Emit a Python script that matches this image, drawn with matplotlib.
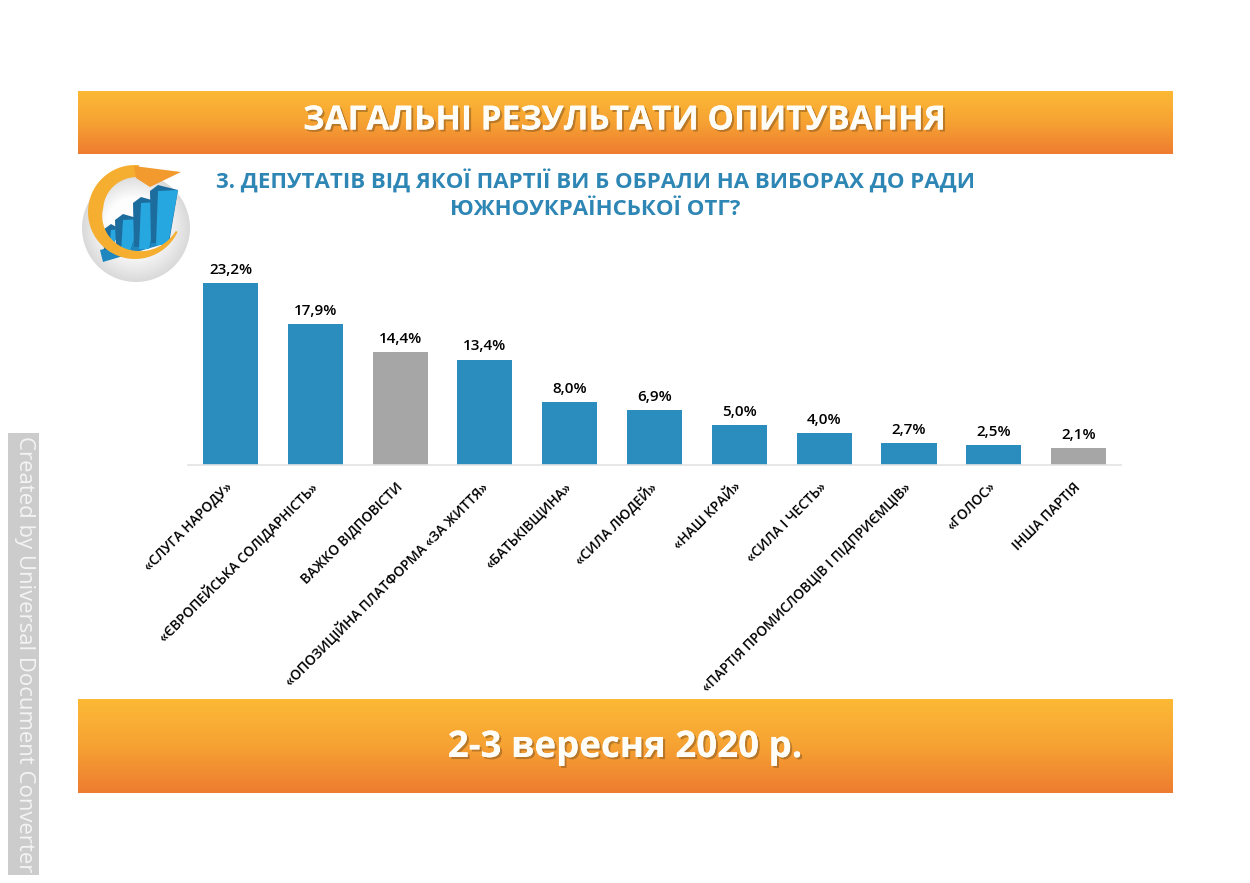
import numpy as np
import matplotlib
matplotlib.use('Agg')
import matplotlib.pyplot as plt
import matplotlib.patheffects as pe
from matplotlib.colors import LinearSegmentedColormap, to_rgb
from matplotlib.patches import Circle, Polygon, Rectangle
from matplotlib.transforms import ScaledTranslation

plt.rcParams['font.family'] = ['Open Sans', 'DejaVu Sans']

W, H = 1250, 883

parties = ['«СЛУГА НАРОДУ»', '«ЄВРОПЕЙСЬКА СОЛІДАРНІСТЬ»', 'ВАЖКО ВІДПОВІСТИ',
           '«ОПОЗИЦІЙНА ПЛАТФОРМА «ЗА ЖИТТЯ»', '«БАТЬКІВЩИНА»', '«СИЛА ЛЮДЕЙ»',
           '«НАШ КРАЙ»', '«СИЛА І ЧЕСТЬ»', '«ПАРТІЯ ПРОМИСЛОВЦІВ І ПІДПРИЄМЦІВ»',
           '«ГОЛОС»', 'ІНША ПАРТІЯ']
values = [23.2, 17.9, 14.4, 13.4, 8.0, 6.9, 5.0, 4.0, 2.7, 2.5, 2.1]
bar_colors = ['#2B8CBE', '#2B8CBE', '#A6A6A6', '#2B8CBE', '#2B8CBE', '#2B8CBE',
              '#2B8CBE', '#2B8CBE', '#2B8CBE', '#2B8CBE', '#A6A6A6']

fig = plt.figure(figsize=(W / 100, H / 100), dpi=100, facecolor='white')

# overlay in pixel coordinates for the slide decoration
bg = fig.add_axes([0, 0, 1, 1])
bg.axis('off')

orange = LinearSegmentedColormap.from_list('banner', ['#FCB935', '#F6A233', '#EE7C30'])
grad = np.linspace(0, 1, 128).reshape(-1, 1)
bg.imshow(grad, cmap=orange, extent=[78, 1173, 154, 91], aspect='auto')
bg.imshow(grad, cmap=orange, extent=[78, 1173, 793, 699], aspect='auto')
bg.set_xlim(0, W)
bg.set_ylim(H, 0)

shadow = [pe.withSimplePatchShadow(offset=(1.5, -1.5), shadow_rgbFace='#8a5a20', alpha=0.55), pe.Normal()]
bg.text(625, 121, 'ЗАГАЛЬНІ РЕЗУЛЬТАТИ ОПИТУВАННЯ', color='#FFFDF8', fontsize=24,
        fontweight='bold', ha='center', va='center', path_effects=shadow)
bg.text(625, 747, '2-3 вересня 2020 р.', color='#FFFDF8', fontsize=26.4,
        fontweight='bold', ha='center', va='center', path_effects=shadow)

bg.text(595, 195, '3. ДЕПУТАТІВ ВІД ЯКОЇ ПАРТІЇ ВИ Б ОБРАЛИ НА ВИБОРАХ ДО РАДИ\nЮЖНОУКРАЇНСЬКОЇ ОТГ?',
        color='#2E86B5', fontsize=16, fontweight='bold', ha='center', va='center', linespacing=1.32)

# logo: soft sphere
edge, mid = np.array(to_rgb('#DADADA')), np.array(to_rgb('#FDFDFD'))
for t in np.linspace(0, 1, 25):
    r = 54 - 26 * t
    bg.add_patch(Circle((136 - 2 * t, 228 - 3 * t), r, facecolor=edge + (mid - edge) * t, edgecolor='none'))

# logo: base and 3d columns
bg.add_patch(Polygon([(100, 250), (103, 262), (167, 243), (168, 232)], facecolor='#1E87BF', edgecolor='none'))
for x0, top, w, bot in [(103, 227, 17, 250), (115, 217, 25, 250), (133, 200, 26, 247), (150, 188, 28, 243)]:
    bg.add_patch(Polygon([(x0, top + 3), (x0 + 8, top - 3), (x0 + w, top + 2), (x0 + w - 9, bot), (x0 + 1, bot)],
                         facecolor='#1C6C9E', edgecolor='none'))
    bg.add_patch(Polygon([(x0 + 8, top + 3), (x0 + w, top + 2), (x0 + w - 10, bot + 2), (x0 + 6, bot + 2)],
                         facecolor='#27A7DF', edgecolor='none'))

# logo: arrow, thick over the top left and tapering towards the tail
ang = np.radians(np.linspace(85, 335, 80))
thick = np.interp(np.linspace(0, 1, 80), [0, 0.35, 0.75, 1], [12, 15, 8, 2])
ox, oy = 135 + 47 * np.cos(ang), 212 - 47 * np.sin(ang)
ix, iy = 135 + (47 - thick) * np.cos(ang), 212 - (47 - thick) * np.sin(ang)
bg.add_patch(Polygon(np.r_[np.c_[ox, oy], np.c_[ix, iy][::-1]], facecolor='#F5AE30', edgecolor='none'))
bg.add_patch(Polygon([(134, 166), (181, 172), (150, 187), (136, 178)], facecolor='#F39A2E', edgecolor='none'))

# watermark
bg.add_patch(Rectangle((8, 433), 31, 442, facecolor='#CCCCCC', edgecolor='none'))
bg.text(24, 654, 'Created by Universal Document Converter', color='#F4F4F4', fontsize=15.9,
        rotation=270, ha='center', va='center')

# bar chart
left, right, base, top = 188, 1121, 464.5, 250
ax = fig.add_axes([left / W, 1 - base / H, (right - left) / W, (base - top) / H])
ax.patch.set_alpha(0)
x = np.arange(len(parties))
bars = ax.bar(x, values, width=0.65, color=bar_colors)
ax.set_xlim(-0.501, 10.5)
ax.set_ylim(0, 27.4)
for b, v in zip(bars, values):
    ax.annotate(f'{v:.1f}%'.replace('.', ','), (b.get_x() + b.get_width() / 2, v),
                xytext=(0, 4.5), textcoords='offset points', ha='center', va='bottom',
                fontsize=11, fontweight='semibold', color='black')

for s in ['top', 'left', 'right']:
    ax.spines[s].set_visible(False)
ax.spines['bottom'].set_color('#E3E3E3')
ax.spines['bottom'].set_linewidth(1.2)
ax.set_yticks([])
ax.set_xticks(x)
ax.set_xticklabels(parties, rotation=45, ha='right', va='top', rotation_mode='anchor',
                   fontsize=9.85, fontweight='semibold', color='black')
ax.tick_params(axis='x', length=0, pad=11)
shift = ScaledTranslation(-5 / 100, 0, fig.dpi_scale_trans)
for lab in ax.get_xticklabels():
    lab.set_transform(lab.get_transform() + shift)

fig.savefig('out.png', dpi=100)
